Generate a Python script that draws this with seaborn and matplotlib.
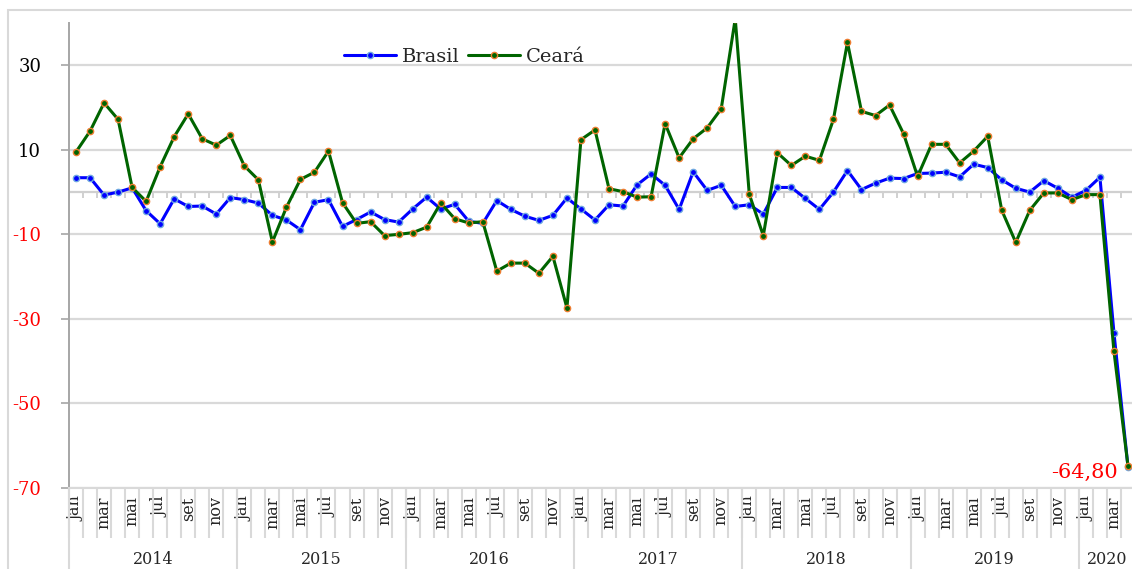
"""Variacao mensal: Brasil x Ceara, jan/2014 a abr/2020."""

import matplotlib.pyplot as plt
import numpy as np
import pandas as pd
import seaborn as sns
from matplotlib.patches import Rectangle


MONTHS = ["jan", "fev", "mar", "abr", "mai", "jun", "jul", "ago", "set", "out", "nov", "dez"]
YEARS = [2014, 2015, 2016, 2017, 2018, 2019, 2020]
N_MONTHS_LAST_YEAR = 4

brasil = [
    3.4, 3.4, -0.7, 0.0, 1.0, -4.4, -7.5, -1.6, -3.4, -3.3, -5.2, -1.3,
    -1.8, -2.6, -5.5, -6.6, -8.9, -2.4, -1.8, -8.1, -6.5, -4.7, -6.5, -7.1,
    -4.0, -1.2, -4.0, -2.9, -6.9, -7.4, -2.0, -4.1, -5.7, -6.7, -5.5, -1.4,
    -4.0, -6.6, -3.0, -3.3, 1.7, 4.3, 1.6, -4.1, 4.8, 0.4, 1.6, -3.4,
    -3.0, -5.2, 1.1, 1.1, -1.5, -4.1, 0.0, 5.1, 0.6, 2.1, 3.3, 3.2,
    4.4, 4.5, 4.7, 3.6, 6.6, 5.8, 2.9, 0.9, 0.0, 2.7, 0.9, -1.2,
    0.4, 3.5, -33.3, -65.0,
]
ceara = [
    9.5, 14.4, 21.1, 17.2, 1.1, -2.2, 6.0, 13.1, 18.5, 12.6, 11.1, 13.4,
    6.2, 2.9, -11.8, -3.6, 3.0, 4.7, 9.7, -2.5, -7.4, -7.0, -10.3, -10.0,
    -9.6, -8.3, -2.6, -6.3, -7.3, -7.0, -18.7, -16.8, -16.8, -19.2, -15.2, -27.4,
    12.4, 14.7, 0.8, 0.1, -1.2, -1.1, 16.2, 8.1, 12.6, 15.2, 19.7, 41.0,
    -0.5, -10.3, 9.3, 6.3, 8.5, 7.5, 17.2, 35.4, 19.1, 18.1, 20.6, 13.8,
    3.7, 11.3, 11.3, 6.9, 9.7, 13.2, -4.3, -11.9, -4.3, -0.2, -0.2, -1.8,
    -0.6, -0.6, -37.7, -64.8,
]
y_ticks = [-70, -50, -30, -10, 10, 30]

W, H = 1132, 569


def main() -> None:
    sns.set_theme(style="white")
    plt.rcParams["font.family"] = ["DejaVu Serif"]

    n = len(brasil)
    data = pd.DataFrame({"idx": np.arange(n), "Brasil": brasil, "Ceará": ceara})

    fig = plt.figure(figsize=(W / 100, H / 100), dpi=100)
    left, right, top, bottom = 69, 1135, 23, 488
    ax = fig.add_axes([left / W, (H - bottom) / H, (right - left) / W, (bottom - top) / H])
    fig.patches.append(Rectangle((8 / W, -0.1), 1.2, 0.1 + (H - 10) / H, transform=fig.transFigure,
                                 fill=False, edgecolor="#d9d9d9", linewidth=1.5))

    ax.set_xlim(-0.5, n - 0.5)
    ax.set_ylim(-70, 40)

    # grade e linha do zero com marcas mensais
    for v in y_ticks:
        ax.axhline(v, color="#d9d9d9", linewidth=1.6, zorder=0)
    ax.axhline(0, color="#d0d0d0", linewidth=1.6, zorder=0)
    ax.vlines(np.arange(n + 1) - 0.5, -1.4, 0, color="#d0d0d0", linewidth=1.4, zorder=0)

    sns.lineplot(data=data, x="idx", y="Brasil", ax=ax, color="#0000ff", linewidth=2.2,
                 marker="o", markersize=4.5, markerfacecolor="#0000ff",
                 markeredgecolor="#6fa8e0", markeredgewidth=1.0, label="Brasil", zorder=3)
    sns.lineplot(data=data, x="idx", y="Ceará", ax=ax, color="#006400", linewidth=2.2,
                 marker="o", markersize=4.5, markerfacecolor="#006400",
                 markeredgecolor="#ed7d31", markeredgewidth=1.0, label="Ceará", zorder=4)

    ax.annotate(f"{ceara[-1]:.2f}".replace(".", ","), xy=(n - 1, ceara[-1]), xytext=(n - 1.73, -66.3),
                ha="right", va="center", color="red", fontsize=15)

    ax.legend(loc="center", bbox_to_anchor=(0.371, 0.927), ncol=2, frameon=False, fontsize=14,
              handlelength=2.7, handletextpad=0.3, columnspacing=0.4)

    # eixo y
    ax.set_yticks(y_ticks)
    ax.set_yticklabels([str(v) for v in y_ticks], fontsize=13)
    for lab, v in zip(ax.get_yticklabels(), y_ticks):
        lab.set_color("red" if v < 0 else "black")
    ax.tick_params(axis="y", left=True, length=6, width=1.2, color="#a6a6a6", pad=14)

    # eixo x de dois niveis: meses e anos
    ax.set_xticks(np.arange(0, n, 2))
    ax.set_xticklabels([MONTHS[i % 12] for i in range(0, n, 2)], rotation=90, fontsize=11.5)
    ax.tick_params(axis="x", bottom=False, length=0, pad=6)
    ax.set_xlabel("")
    ax.set_ylabel("")

    trans = ax.get_xaxis_transform()
    ax.vlines(np.arange(n + 1) - 0.5, -50 / (bottom - top), 0, transform=trans,
              color="#d9d9d9", linewidth=1.5, clip_on=False)
    year_edges = [12 * k - 0.5 for k in range(len(YEARS))] + [n - 0.5]
    ax.vlines(year_edges, -0.2, 0, transform=trans, color="#d9d9d9", linewidth=1.5, clip_on=False)
    for k, year in enumerate(YEARS):
        mid = (year_edges[k] + year_edges[k + 1]) / 2
        ax.text(mid, -(560 - bottom) / (bottom - top), str(year), transform=trans,
                ha="center", va="center", fontsize=11.5)

    for side in ("top", "right"):
        ax.spines[side].set_visible(False)
    ax.spines["bottom"].set_color("#d9d9d9")
    ax.spines["bottom"].set_linewidth(1.5)
    ax.spines["left"].set_color("#a6a6a6")
    ax.spines["left"].set_linewidth(1.4)

    fig.savefig("out.png", dpi=100)
    plt.close(fig)


if __name__ == "__main__":
    main()
